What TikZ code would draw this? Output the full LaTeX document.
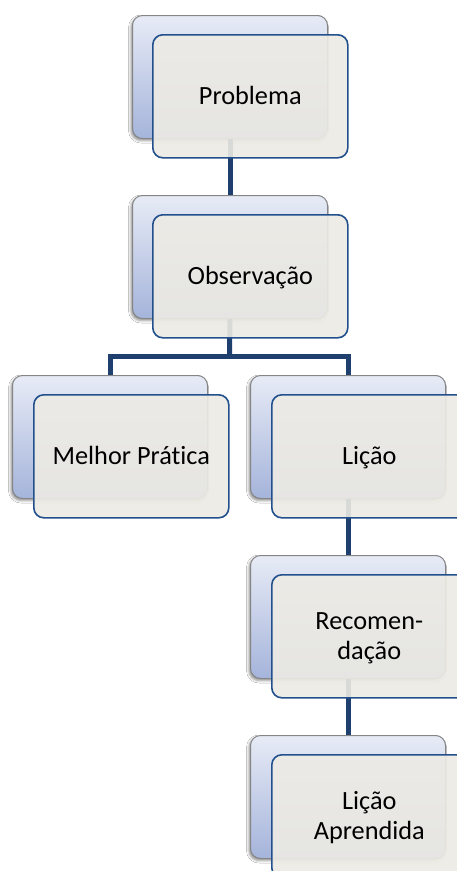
\documentclass[tikz,border=0pt]{standalone}
\usepackage{fontspec}
\setmainfont{Carlito}[Ligatures=NoCommon]
\usetikzlibrary{shadows.blur}
\definecolor{backtop}{HTML}{E7EBF6}
\definecolor{backbot}{HTML}{A5B4DB}
\definecolor{backline}{HTML}{858585}
\definecolor{frontfill}{HTML}{EDEBE4}
\definecolor{frontline}{HTML}{22508C}
\definecolor{conn}{HTML}{1F3F6F}
\newcommand\boxstrut{\rule[-7bp]{0pt}{30bp}}
\tikzset{
  backbox/.style={rectangle, rounded corners=10bp, minimum width=195bp, minimum height=123bp,
    anchor=north west, draw=backline, line width=1bp, top color=backtop, bottom color=backbot,
    blur shadow={shadow xshift=-1.5bp, shadow yshift=-2bp, shadow blur radius=2.5bp, shadow opacity=45}},
  frontbox/.style={rectangle, rounded corners=10bp, minimum width=195bp, minimum height=123bp,
    anchor=north west, draw=frontline, line width=1.6bp, fill=frontfill, fill opacity=0.9,
    text opacity=1, draw opacity=1, align=center, text=black, inner sep=0pt,
    font=\fontsize{26.3bp}{30bp}\selectfont},
  connector/.style={draw=conn, line width=5bp, line join=miter}
}
\begin{document}
\begin{tikzpicture}[x=1bp,y=-1bp]
\clip (0,0) rectangle (457,871);
\fill[white] (0,0) rectangle (457,871);
% back boxes
\node[backbox] (b1) at (132,15) {};
\node[backbox] (b2) at (132,195) {};
\node[backbox] (b3) at (12,375) {};
\node[backbox] (b4) at (250,375) {};
\node[backbox] (b5) at (250,555) {};
\node[backbox] (b6) at (250,735) {};
% connectors
\coordinate (bus) at (229.5,356);
\draw[connector] (b1.south) -- (b2.north);
\draw[connector] (b2.south) -- (bus);
\draw[connector] (b3.north) |- (bus) -| (b4.north);
\draw[connector] (b4.south) -- (b5.north);
\draw[connector] (b5.south) -- (b6.north);
% front boxes
\node[frontbox] (f1) at (152,34) {\boxstrut Problema};
\node[frontbox] (f2) at (152,214) {\boxstrut Observação};
\node[frontbox] (f3) at (33,394) {\boxstrut Melhor Prática};
\node[frontbox] (f4) at (271,394) {\boxstrut Lição};
\node[frontbox] (f5) at (271,574) {\boxstrut Recomen-\\\boxstrut dação};
\node[frontbox] (f6) at (271,754) {\boxstrut Lição\\\boxstrut Aprendida};
\end{tikzpicture}
\end{document}
